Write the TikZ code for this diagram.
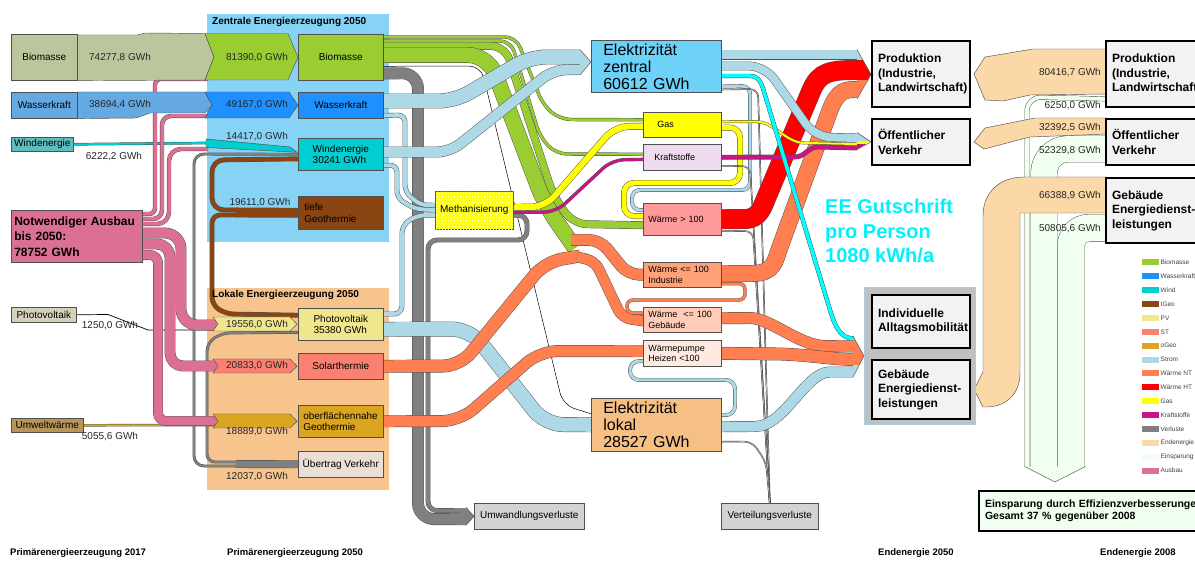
\documentclass[tikz,border=0pt]{standalone}
\usepackage{fontspec}
\setmainfont{Liberation Sans}
\usetikzlibrary{calc,patterns}
\pgfdeclarelayer{zone}
\pgfdeclarelayer{flows}
\pgfsetlayers{zone,flows,main}
\newcommand\fsz[2]{\fontsize{#1}{#2}\selectfont}
\definecolor{cBioOld}{HTML}{BAC79C}
\definecolor{cBio}{HTML}{9ACD32}
\definecolor{cWkOld}{HTML}{65A9E3}
\definecolor{cWk}{HTML}{1E90FF}
\definecolor{cWiOld}{HTML}{5FBDBD}
\definecolor{cWi}{HTML}{00CED1}
\definecolor{cTGeo}{HTML}{8B4513}
\definecolor{cPV}{HTML}{F0E68C}
\definecolor{cPVOld}{HTML}{D6CFBA}
\definecolor{cST}{HTML}{FA8072}
\definecolor{cOGeo}{HTML}{DAA520}
\definecolor{cUwOld}{HTML}{B8965A}
\definecolor{cStrom}{HTML}{ADD8E6}
\definecolor{cNT}{HTML}{FF7F50}
\definecolor{cHT}{HTML}{FF0000}
\definecolor{cGas}{HTML}{FFFF00}
\definecolor{cKraft}{HTML}{C71585}
\definecolor{cVerl}{HTML}{808080}
\definecolor{cEnd}{HTML}{FBD8A8}
\definecolor{cEins}{HTML}{F0FFF0}
\definecolor{cAusbau}{HTML}{DB7093}
\definecolor{cZentral}{HTML}{87D3F5}
\definecolor{cLokal}{HTML}{F7C48E}
\definecolor{cEZ}{HTML}{6ED2F8}
\definecolor{cEL}{HTML}{F6BF84}
\definecolor{cKraftBox}{HTML}{EEDBF0}
\definecolor{cW100}{HTML}{FF9A9A}
\definecolor{cWInd}{HTML}{FFA27A}
\definecolor{cWGeb}{HTML}{FFCDB7}
\definecolor{cWp}{HTML}{FFEAE2}
\definecolor{cLoss}{HTML}{D3D3D3}
\definecolor{cFin}{HTML}{F2F2F2}
\definecolor{cGrp}{HTML}{C0C0C0}
\definecolor{cGrpB}{HTML}{A9CCE3}
\definecolor{cUv}{HTML}{E9DFD6}
\definecolor{cEE}{HTML}{00F0FF}
\definecolor{cCy}{HTML}{00FFFF}
\definecolor{cWhite}{HTML}{FFFFFF}
\definecolor{cLine}{HTML}{505050}
\begin{document}
\begin{tikzpicture}[x=1pt,y=-1pt,
  bx/.style={draw=cLine, line width=0.6pt, anchor=north west, inner sep=1pt, align=left, font=\fsz{10}{11.5}},
  cb/.style={bx, minimum width=85pt},
  mb/.style={bx, text width=68pt, inner xsep=5pt, inner ysep=0pt, font=\fsz{9}{10.5}},
  big/.style={bx, text width=106pt, inner xsep=12pt, inner ysep=0pt, font=\fsz{16}{17}},
  fb/.style={draw=black, line width=2pt, fill=cFin, anchor=north west, inner ysep=0pt, inner xsep=6pt, text width=86pt, align=left, font=\bfseries\fsz{12}{14.5}},
  fl/.style 2 args={draw=cLine, line width=0.45pt, double=#1, double distance=#2},
  vl/.style={draw=black!80, line width=0.4pt, double=gray!55, double distance=0.7pt, rounded corners=8pt},
  edg/.style={draw=cLine, line width=0.45pt},
  gwh/.style={font=\fsz{10}{11}, inner sep=0pt, text=black!85},
  ttl/.style={font=\bfseries\fsz{10}{12}, inner sep=0pt, anchor=west},
]
\useasboundingbox (0,0) rectangle (1195,561);
\begin{pgfonlayer}{zone}
\fill[cWhite] (0,0) rectangle (1195,561);
\fill[cZentral] (207,14) rectangle (389,242);
\fill[cLokal] (207,288) rectangle (389,490);
\end{pgfonlayer}

% ---------- nodes ----------
\node[bx, fill=cBioOld, minimum width=66pt, minimum height=46pt] (bioL) at (11,34) {Biomasse};
\node[bx, fill=cWkOld, minimum width=66pt, minimum height=26pt] (wkL) at (11,92) {Wasserkraft};
\node[bx, fill=cWiOld, minimum width=62pt, minimum height=14pt, inner sep=0pt] (wiL) at (11,137) {Windenergie};
\node[bx, fill=cAusbau, minimum height=52pt, text width=125pt, inner xsep=3pt, font=\bfseries\fsz{12}{15.5}] (ausbau) at (11,210) {Notwendiger Ausbau\\bis 2050:\\78752 GWh};
\node[bx, fill=cPVOld, minimum width=65pt, minimum height=15pt, inner sep=0pt] (pvL) at (11,307) {Photovoltaik};
\node[bx, fill=cUwOld, minimum width=72pt, minimum height=14pt, inner sep=0pt] (uwL) at (11,418) {Umweltwärme};

\node[cb, fill=cBio, minimum height=46pt] (bioZ) at (298,34) {Biomasse};
\node[cb, fill=cWk, minimum height=26pt] (wkZ) at (298,92) {Wasserkraft};
\node[cb, fill=cWi, minimum height=32pt] (wiZ) at (298,138) {Windenergie\\30241 GWh};
\node[bx, fill=cTGeo, minimum height=33pt, text width=73pt, inner xsep=6pt] (tgZ) at (298,196) {tiefe\\Geothermie};
\node[cb, fill=cPV, minimum height=32pt] (pvZ) at (298,308) {Photovoltaik\\35380 GWh};
\node[cb, fill=cST, minimum height=26pt] (stZ) at (298,353) {Solarthermie};
\node[bx, fill=cOGeo, minimum height=32pt, text width=75pt, inner xsep=5pt] (ogZ) at (298,405) {oberflächennahe\\Geothermie};
\node[cb, fill=cUv, minimum height=26pt] (uvZ) at (298,451) {Übertrag Verkehr};

\node[bx, minimum width=78pt, minimum height=38pt, fill=cGas, postaction={pattern=crosshatch dots, pattern color=cWhite}] (meth) at (435,191) {Methanisierung};
\node[big, fill=cEZ, minimum height=52pt] (ez) at (591,40) {Elektrizität\\zentral\\60612 GWh};
\node[mb, fill=cGas, minimum height=25pt] (gas) at (643,112) {\hspace*{9pt}Gas};
\node[mb, fill=cKraftBox, minimum height=26pt] (kraft) at (643,144) {\hspace*{6pt}Kraftstoffe};
\node[mb, fill=cW100, minimum height=32pt] (w100) at (643,203) {Wärme > 100};
\node[mb, fill=cWInd, minimum height=25pt] (wind) at (643,262) {Wärme <= 100\\Industrie};
\node[mb, fill=cWGeb, minimum height=25pt] (wgeb) at (643,307) {Wärme\ \ <= 100\\Gebäude};
\node[mb, fill=cWp, minimum height=26pt] (wpump) at (643,340) {Wärmepumpe\\Heizen <100};
\node[big, fill=cEL, minimum height=53pt] (el) at (591,398) {Elektrizität\\lokal\\28527 GWh};
\node[bx, fill=cLoss, minimum width=110pt, minimum height=26pt] (umv) at (474,503) {Umwandlungsverluste};
\node[bx, fill=cLoss, minimum width=97pt, minimum height=26pt] (vtv) at (721,503) {Verteilungsverluste};

\node[fb, minimum height=66pt] (prod) at (871,40) {Produktion\\(Industrie,\\Landwirtschaft)};
\node[fb, minimum height=46pt] (oev) at (871,118) {Öffentlicher\\Verkehr};
\node[draw=cGrpB, line width=1pt, fill=cGrp, minimum width=111pt, minimum height=137pt, anchor=north west, inner sep=0pt] (grp) at (864,287) {};
\node[fb, minimum height=53pt] (mob) at (871,294) {Individuelle\\Alltagsmobilität};
\node[fb, minimum height=59pt] (geb) at (871,359) {Gebäude\\Energiedienst-\\leistungen};
\node[fb, minimum height=66pt, text width=98pt] (prod08) at (1105,40) {Produktion\\(Industrie,\\Landwirtschaft)};
\node[fb, minimum height=46pt, text width=98pt] (oev08) at (1105,118) {Öffentlicher\\Verkehr};
\node[fb, minimum height=65pt, text width=98pt] (geb08) at (1105,177) {Gebäude\\Energiedienst-\\leistungen\\[4pt]};
\node[draw=black, line width=2pt, fill=cEins, anchor=north west, minimum height=40pt, text width=228pt, inner xsep=6pt, align=left, font=\bfseries\fsz{10.5}{12.5}] (eins) at (978,490) {Einsparung durch Effizienzverbesserungen\\Gesamt 37~\% gegenüber 2008};

% ---------- flows ----------
\begin{pgfonlayer}{flows}
\coordinate (inBio) at (208,79);
\coordinate (inWk) at (208,116);
\coordinate (inWi) at (208,149);
\coordinate (inPV) at (217,325);
\coordinate (inST) at (217,366);
\coordinate (inOG) at (217,421);
\coordinate (uvs) at (236,464);
\coordinate (tgs) at (236,212.5);
\coordinate (jn) at (575,248);

% thin inputs
\draw[black, line width=0.7pt] (pvL.east) -- (108,314.5) -- (148,330) -- (inPV|-0,330);
\draw[fl={cOGeo}{1.6pt}] (uwL.east) -- (inOG|-0,425);
\draw[fl={cWi}{1.8pt}] (wiL.east) -- (207,143);
\draw[black, line width=0.5pt, rounded corners=12pt] ($(bioZ.east)+(-3,9)$) -- (481,66) -- (563,405) -- ($(el.west)+(0,-11)$);

% losses
\draw[fl={cVerl}{11pt}, rounded corners=16pt] ($(bioZ.south east)+(-3,-7)$) -- (418,73) -- (418,519) -- ($(umv.west)+(-8,3)$);
\draw[fl={cVerl}{4pt}, rounded corners=9pt] ($(meth.east)+(-5,5)$) -- (527,215) -- (527,240) -- (428,240) -- (428,510.5) -- ($(umv.west)+(-8,-5.5)$);
\filldraw[fill=cVerl, edg] ($(umv.west)+(-8,-9)$) -- (umv.west) -- ($(umv.west)+(-8,9)$);
\draw[fl={cVerl}{2pt}, rounded corners=8pt] (238,462) -- (207,462) -- (207,343) -- (222,333) -- ($(pvZ.west)+(2,8)$);
\draw[fl={cVerl}{2pt}, rounded corners=10pt] (238,466) -- (194,466) -- (194,154) -- ($(wiZ.west)+(2,0)$);
\draw[fl={cVerl}{7pt}] ($(uvZ.west)+(2,0)$) -- (uvs);

% tiefe Geothermie
\draw[fl={cTGeo}{4pt}, rounded corners=12pt] (238,210) -- (212,210) -- (212,160) -- ($(wiZ.west)+(2,4.5)$);
\draw[fl={cTGeo}{4pt}, rounded corners=8pt] (238,215) -- (212,215) -- (212,305) -- (226,314) -- ($(pvZ.west)+(2,-9)$);
\draw[fl={cTGeo}{9pt}] ($(tgZ.west)+(2,0)$) -- (tgs);

% Ausbau
\draw[fl={cAusbau}{3.5pt}, rounded corners=6pt] ($(ausbau.north east)+(-4,4)$) -- (155,214) -- (155,79) -- (inBio);
\draw[fl={cAusbau}{3.5pt}, rounded corners=9pt] ($(ausbau.north east)+(-4,9)$) -- (162,219) -- (162,116) -- (inWk);
\draw[fl={cAusbau}{3.5pt}, rounded corners=12pt] ($(ausbau.north east)+(-4,14)$) -- (169,224) -- (169,149) -- (inWi);
\draw[fl={cAusbau}{10pt}, rounded corners=16pt] ($(ausbau.north east)+(-4,23)$) -- (181,233) -- (181,325) -- (inPV);
\draw[fl={cAusbau}{10pt}, rounded corners=13pt] ($(ausbau.north east)+(-4,34)$) -- (170,244) -- (170,366) -- (inST);
\draw[fl={cAusbau}{9pt}, rounded corners=8pt] ($(ausbau.north east)+(-4,45)$) -- (158,255) -- (158,421) -- (inOG);

% Biomasse
\draw[fl={cBio}{2.5pt}, rounded corners=11pt] ($(bioZ.north east)+(-3,3)$) -- (516,37) -- (543,105) -- (560,119.5) -- ($(gas.west)+(5,-5)$);
\draw[fl={cBio}{2.5pt}, rounded corners=11pt] ($(bioZ.north east)+(-3,7)$) -- (511,41) -- (540,137) -- (556,154) -- ($(kraft.west)+(5,-3)$);
\draw[fl={cBio}{7pt}, rounded corners=14pt] ($(bioZ.north east)+(-3,12)$) -- (505,46) -- (553,195) -- (573,224) -- ($(w100.west)+(5,6)$);
\draw[fl={cBio}{15pt}, rounded corners=20pt] ($(bioZ.north east)+(-3,21)$) -- (488,55) -- (545,205) -- (jn);

% Strom
\draw[fl={cStrom}{4pt}, rounded corners=7pt] ($(wkZ.south east)+(-3,-3)$) -- (405,115) -- (405,192) -- (420,205) -- ($(meth.west)+(3,-5)$);
\draw[fl={cStrom}{4pt}, rounded corners=7pt] ($(wiZ.south east)+(-3,-5)$) -- (397,165) -- (397,198) -- (415,209) -- ($(meth.west)+(3,0)$);
\draw[fl={cStrom}{4pt}, rounded corners=8pt] ($(pvZ.north east)+(-3,6)$) -- (402,314) -- (402,225) -- (418,215) -- ($(meth.west)+(3,5)$);
\draw[fl={cStrom}{14pt}, rounded corners=16pt] ($(wkZ.north east)+(-3,9)$) -- (455,101) -- (530,57) -- ($(ez.north west)+(-11,17)$);
\draw[fl={cStrom}{10pt}, rounded corners=13pt] ($(wiZ.north east)+(-3,14)$) -- (450,152) -- (553,70) -- ($(ez.north west)+(-11,29.5)$);
\filldraw[fill=cStrom, edg] ($(ez.north west)+(-11,9.5)$) -- ($(ez.north west)+(0,22)$) -- ($(ez.north west)+(-11,35)$);
\draw[fl={cStrom}{14pt}, rounded corners=18pt] ($(pvZ.east)+(-3,5)$) -- (470,329) -- (545,424.5) -- ($(el.west)+(3,0)$);

% Waerme NT into Waerme nodes
\draw[fl={cNT}{12pt}, rounded corners=17pt] ($(stZ.east)+(-3,0)$) -- (460,366) -- (545,262) -- ($(jn)+(5,8)$);
\draw[fl={cNT}{11pt}, rounded corners=11pt] ($(jn)+(-4,-8)$) -- (600,240) -- (628,274.5) -- ($(wind.west)+(7,0)$);
\draw[fl={cNT}{10pt}, rounded corners=9pt] ($(jn)+(2,9)$) -- (595,261) -- (622,318) -- ($(wgeb.west)+(7,2)$);
\draw[fl={cNT}{11pt}, rounded corners=18pt] ($(ogZ.east)+(-3,0)$) -- (460,421) -- (540,351) -- ($(wpump.west)+(7,-2)$);

% Methanisierung outputs
\draw[fl={cGas}{6pt}, rounded corners=14pt] ($(meth.east)+(-3,-3)$) -- (545,207) -- (615,126.5) -- ($(gas.west)+(5,1.5)$);
\draw[fl={cKraft}{2.5pt}, rounded corners=12pt] ($(meth.east)+(-3,2)$) -- (556,212) -- (612,160) -- ($(kraft.west)+(5,2)$);

% loops
\draw[fl={cStrom}{3pt}, rounded corners=8pt] ($(ez.south east)+(-5,-6)$) -- (750,86) -- (750,190) -- (632,190) -- (632,210) -- ($(w100.west)+(7,-9)$);
\draw[fl={cGas}{5pt}, rounded corners=10pt] ($(gas.east)+(-5,3)$) -- (740,127.5) -- (740,183) -- (624,183) -- (624,216) -- ($(w100.west)+(7,-3)$);
\draw[fl={cNT}{2.5pt}, rounded corners=6pt] ($(wind.east)+(-5,9)$) -- (745,283.5) -- (745,300) -- (627,300) -- (627,313) -- ($(wgeb.west)+(7,-6.5)$);
\draw[fl={cStrom}{3pt}, rounded corners=9pt] ($(el.north east)+(-5,17)$) -- (735,415) -- (735,380) -- (630,380) -- (630,361) -- ($(wpump.west)+(7,8)$);

% distribution losses
\draw[vl] ($(ez.south east)+(-5,-3)$) -- (758,89) -- (vtv.north);
\draw[vl] ($(kraft.east)+(-5,9)$) -- (750,166) -- (vtv.north);
\draw[vl] ($(w100.east)+(-5,12)$) -- (753,231) -- (vtv.north);
\draw[vl] ($(el.east)+(-5,17)$) -- (752,441.5) -- (766,462) -- (vtv.north);

% outputs to Produktion
\draw[fl={cHT}{19pt}] ($(w100.east)+(-5,0)$) -- (745,219) .. controls (760,219) and (763,205) .. (767,196) -- (812,89) .. controls (820,72) and (830,70) .. ($(prod.north west)+(-14,30)$);
\draw[fl={cNT}{16pt}] ($(wind.east)+(-5,-1)$) -- (752,273.5) .. controls (775,273.5) and (775,260) .. (780,247) -- (830,110) .. controls (838,90) and (845,89.5) .. ($(prod.north west)+(-14,49.5)$);
\draw[fl={cStrom}{9pt}] ($(ez.north east)+(-5,15)$) -- ($(prod.north west)+(-14,15)$);
\draw[fl={cStrom}{8pt}, rounded corners=16pt] ($(ez.north east)+(-5,26)$) -- (765,66) -- (815,137) -- ($(oev.west)+(-14,-4)$);
\draw[fl={cGas}{2pt}] ($(gas.east)+(-5,-3)$) -- (755,121.5) .. controls (775,121.5) and (785,143) .. (805,143) -- ($(oev.west)+(-14,2)$);
\draw[fl={cKraft}{4pt}] ($(kraft.east)+(-5,0)$) -- (795,157) .. controls (805,157) and (808,147) .. (818,147) -- ($(oev.west)+(-14,6)$);

% outputs to Gebaeude group
\draw[fl={cNT}{11pt}] ($(wgeb.east)+(-5,-1.5)$) -- (750,318) .. controls (770,318) and (800,346) .. (825,346) -- ($(grp.west)+(-11,-9.5)$);
\draw[fl={cNT}{12pt}] ($(wpump.east)+(-5,0)$) -- (780,354) .. controls (810,355) and (830,359) .. ($(grp.west)+(-11,3.5)$);
\draw[fl={cStrom}{10pt}] ($(el.east)+(-5,2)$) -- (755,426.5) .. controls (785,426.5) and (805,372) .. (830,372) -- ($(grp.west)+(-11,16)$);
\draw[fl={cCy}{3.5pt}] ($(ez.north east)+(-5,36)$) -- (750,76) .. controls (760,76) and (762,85) .. (765,95) -- (830,310) .. controls (836,330) and (842,338) .. ($(grp.west)+(-11,-17.5)$);

% arrow tips
\begin{scope}
\clip (857,49.5) -- (871,74) -- (857,99) -- cycle;
\fill[cStrom] (850,45) rectangle (875,60);
\fill[cHT] (850,60) rectangle (875,80.5);
\fill[cNT] (850,80.5) rectangle (875,100);
\end{scope}
\draw[edg] (857,49.5) -- ($(prod.west)+(0,1)$) -- (857,99);
\begin{scope}
\clip (857,132.5) -- (871,141) -- (857,149.5) -- cycle;
\fill[cStrom] (850,130) rectangle (875,141.5);
\fill[cGas] (850,141.5) rectangle (875,144.5);
\fill[cKraft] (850,144.5) rectangle (875,151);
\end{scope}
\draw[edg] (857,132.5) -- (oev.west) -- (857,149.5);
\begin{scope}
\clip (853,336) -- (864,356) -- (853,377) -- cycle;
\fill[cCy] (845,330) rectangle (870,340);
\fill[cNT] (845,340) rectangle (870,365.5);
\fill[cStrom] (845,365.5) rectangle (870,380);
\end{scope}
\draw[edg] (853,336) -- (grp.west) -- (853,377);

% left chevrons
\filldraw[fill=cBioOld, edg] ($(bioL.north east)+(0,1)$) -- (137,35) -- (145,33) -- (205,33.5) -- (214,57) -- (205,80) -- (bioL.south east) -- cycle;
\filldraw[fill=cBio, edg] (205,33.5) -- (288,33.5) -- (bioZ.west) -- (288,80) -- (205,80) -- (214,57) -- cycle;
\filldraw[fill=cWkOld, edg] (wkL.north east) -- (205,92) -- (212,105) -- (205,113) -- (150,113) -- (136,118) -- (wkL.south east) -- cycle;
\filldraw[fill=cWk, edg] (205,92) -- (289,92) -- (wkZ.west) -- (289,118) -- (205,118) -- (212,105) -- cycle;
\filldraw[fill=cWi, edg] (206,139) -- (290,147) -- ($(wiZ.west)+(-1,-2)$) -- (206,147.5) -- cycle;
\filldraw[fill=cPV, edg] (213,317) -- (290,317) -- ($(pvZ.west)+(-1,0)$) -- (290,331) -- (213,331) -- (218,324) -- cycle;
\filldraw[fill=cST, edg] (213,359) -- (290,359) -- ($(stZ.west)+(-1,0)$) -- (290,373) -- (213,373) -- (218,366) -- cycle;
\filldraw[fill=cOGeo, edg] (213,414) -- (290,414) -- ($(ogZ.west)+(-1,0)$) -- (290,428) -- (213,428) -- (218,421) -- cycle;

% right side: savings and final energy 2008
\draw[fl={cEins}{4pt}, rounded corners=14pt] ($(prod08.south west)+(5,-9)$) -- (1027,97) -- (1027,467);
\draw[fl={cEins}{26pt}, rounded corners=24pt] ($(oev08.north west)+(5,31)$) -- (1044,149) -- (1044,467);
\draw[fl={cEins}{27pt}, rounded corners=18pt] ($(geb08.north west)+(5,51)$) -- (1071,228) -- (1071,467);
\fill[cEins] (1024.6,466.5) -- (1085.4,466.5) -- (1055,482) -- cycle;
\draw[edg] (1024.6,466.5) -- (1055,482) -- (1085.4,466.5);
\filldraw[fill=cEnd, edg] ($(prod08.north west)+(2,9)$) -- (1033,49) -- (985,57) -- ($(prod.east)+(3,0)$) -- (985,100) -- (1003,101) -- (1030,95) -- ($(prod08.north west)+(2,54)$);
\filldraw[fill=cEnd, edg] ($(oev08.north west)+(2,0)$) -- (1035,118) -- (985,128) -- ($(oev.east)+(3,0)$) -- (984,149) -- (1030,137) -- ($(oev08.north west)+(2,16)$);
\filldraw[fill=cEnd, edg] ($(geb08.north west)+(2,0)$) -- (1024,177) .. controls (1000,177) and (983,192) .. (983,216) -- (983,372) -- ($(geb.east)+(3,0)$) -- (983,407) .. controls (1005,408) and (1020,395) .. (1020,373) -- (1020,213) -- ($(geb08.north west)+(2,36)$);
\end{pgfonlayer}

% ---------- labels ----------
\node[ttl] (tz) at (212,22) {Zentrale Energieerzeugung 2050};
\node[ttl] (tl) at (212,295) {Lokale Energieerzeugung 2050};
\node[gwh] (g1) at (120,58) {74277,8 GWh};
\node[gwh] (g2) at (257,58) {81390,0 GWh};
\node[gwh] (g3) at (120,105) {38694,4 GWh};
\node[gwh] (g4) at (257,105) {49167,0 GWh};
\node[gwh] (g5) at (114,157) {6222,2 GWh};
\node[gwh] (g6) at (257,137) {14417,0 GWh};
\node[gwh] (g7) at (260,203) {19611,0 GWh};
\node[gwh] (g8) at (110,326) {1250,0 GWh};
\node[gwh] (g9) at (257,325) {19556,0 GWh};
\node[gwh] (g10) at (257,366) {20833,0 GWh};
\node[gwh] (g11) at (257,432) {18889,0 GWh};
\node[gwh] (g12) at (110,437) {5055,6 GWh};
\node[gwh] (g13) at (257,477) {12037,0 GWh};
\node[gwh, anchor=east] (r1) at (1101,73) {80416,7 GWh};
\node[gwh, anchor=east] (r2) at (1101,106) {6250,0 GWh};
\node[gwh, anchor=east] (r3) at (1101,128) {32392,5 GWh};
\node[gwh, anchor=east] (r4) at (1101,151) {52329,8 GWh};
\node[gwh, anchor=east] (r5) at (1101,196) {66388,9 GWh};
\node[gwh, anchor=east] (r6) at (1101,229) {50805,6 GWh};
\node[anchor=north west, align=left, text=cEE, font=\bfseries\fsz{20}{24.5}, inner sep=0pt] (ee) at (825,199) {EE Gutschrift\\pro Person\\1080 kWh/a};
\node[font=\bfseries\fsz{9.5}{11}, anchor=west, inner sep=0pt] (b1) at (10,553) {Primärenergieerzeugung 2017};
\node[font=\bfseries\fsz{9.5}{11}, anchor=west, inner sep=0pt] (b2) at (227,553) {Primärenergieerzeugung 2050};
\node[font=\bfseries\fsz{9.5}{11}, anchor=west, inner sep=0pt] (b3) at (878,553) {Endenergie 2050};
\node[font=\bfseries\fsz{9.5}{11}, anchor=west, inner sep=0pt] (b4) at (1100,553) {Endenergie 2008};

% legend
\foreach \nm/\cl [count=\i from 0] in {Biomasse/cBio, Wasserkraft/cWk, Wind/cWi, tGeo/cTGeo, PV/cPV, ST/cST, oGeo/cOGeo, Strom/cStrom, Wärme NT/cNT, Wärme HT/cHT, Gas/cGas, Kraftstoffe/cKraft, Verluste/cVerl, Endenergie/cEnd, Einsparung/cEins, Ausbau/cAusbau} {
  \fill[\cl] (1142,{262.5+\i*13.87-3}) rectangle (1159,{262.5+\i*13.87+3});
  \node[anchor=west, inner sep=0pt, font=\fsz{6.5}{7}, text=black!75] (leg\i) at (1160.5,{262.5+\i*13.87}) {\nm};
}
\end{tikzpicture}
\end{document}
